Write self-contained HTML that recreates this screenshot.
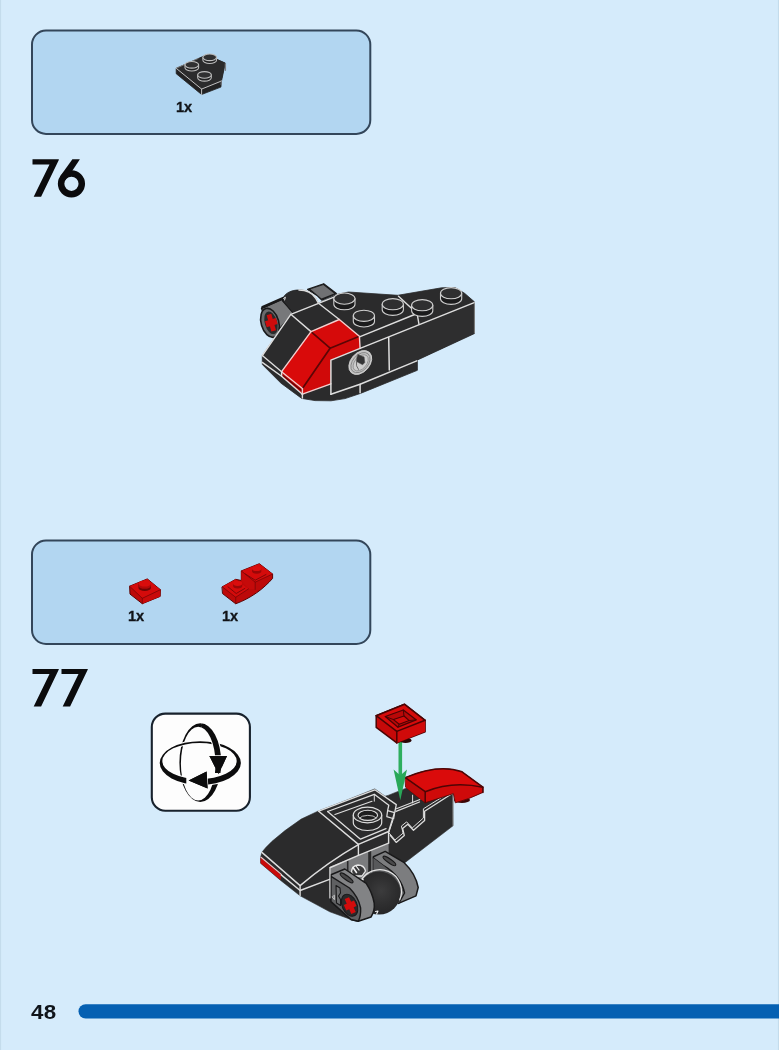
<!DOCTYPE html>
<html><head><meta charset="utf-8">
<style>
html,body{margin:0;padding:0;}
body{width:779px;height:1050px;position:relative;overflow:hidden;background:#d5ebfb;font-family:"Liberation Sans",sans-serif;}
.box{position:absolute;left:31px;width:340.3px;box-sizing:border-box;border:1.8px solid #33465a;border-radius:15px;background:#b2d6f1;}
#b1{top:29.6px;height:105px;}
#b2{top:539.6px;height:105.4px;}
.qty{position:absolute;font-weight:bold;font-size:14.6px;line-height:1;color:#101317;letter-spacing:-0.2px;-webkit-text-stroke:0.3px #101317;}
#pg{position:absolute;left:31.3px;top:1002.1px;font-weight:bold;font-size:20.6px;line-height:20px;color:#10141a;letter-spacing:0.4px;transform:scaleX(1.085);transform-origin:0 0;}
#bar{position:absolute;left:78.3px;top:1004.5px;width:720px;height:14.3px;border-radius:7.2px;background:#0560b2;}
#rot{position:absolute;left:150.6px;top:712.4px;width:100.4px;height:99.5px;box-sizing:border-box;border:2.2px solid #18222d;border-radius:14px;background:#fdfdfd;}
svg{position:absolute;left:0;top:0;z-index:0;filter:blur(0.45px);}
.qty,#pg{z-index:2;will-change:transform;filter:blur(0.35px);}
</style></head>
<body>
<div class="qty" style="left:175.5px;top:99.7px;">1x</div>
<div class="qty" style="left:128.2px;top:608.6px;">1x</div>
<div class="qty" style="left:222.1px;top:608.6px;">1x</div>
<div id="pg">48</div>
<svg id="art" width="779" height="1050" viewBox="0 0 779 1050">
<rect x="0" y="0" width="1.1" height="1050" fill="#c4dcec"/><rect x="777.9" y="0" width="1.1" height="1050" fill="#c4dcec"/>
<rect x="32" y="30.5" width="338.3" height="103.4" rx="14" ry="14" fill="#b2d6f1" stroke="#33465a" stroke-width="2"/>
<rect x="32" y="540.5" width="338.3" height="103.5" rx="14" ry="14" fill="#b2d6f1" stroke="#33465a" stroke-width="2"/>
<rect x="151.8" y="713.6" width="98.1" height="97.2" rx="13.5" ry="13.5" fill="#fdfdfd" stroke="#18222d" stroke-width="2.1"/>
<rect x="78.5" y="1004.2" width="720" height="14.3" rx="7.15" ry="7.15" fill="#0560b2"/>
<g id="nums" fill="#0b0b0d">
<defs><path id="seven" d="M0,0 H26.3 V0.7 L8.6,37.6 H1.2 L17,5.2 H0 Z"/></defs>
<use href="#seven" x="32.5" y="159.2"/>
<circle cx="71.45" cy="183.8" r="10.35" fill="none" stroke="#0b0b0d" stroke-width="6.5"/>
<polygon points="72.4,159.2 79.9,159.2 69.3,175.2 64.6,180.8 60.2,176.3"/>
<use href="#seven" x="32.5" y="668.9"/>
<use href="#seven" x="61.5" y="668.9"/>
</g>
<g id="part1">
<polygon points="176.2,68.3 206.8,54.8 225.3,63.1 221.5,81.0 220.9,87.1 201.6,94.5 176.2,73.7" fill="#222223" stroke="#222223" stroke-width="0.8" stroke-linejoin="round" />
<polygon points="176.2,68.3 206.8,54.8 225.3,63.1 221.5,81.0 201.6,89.1" fill="#2b2b2c" />
<polyline points="176.2,68.3 201.6,89.1 221.5,81.0" fill="none" stroke="#d2d2d2" stroke-width="0.9" stroke-linejoin="round" stroke-linecap="round" />
<polyline points="201.6,89.1 201.6,94.5" fill="none" stroke="#d2d2d2" stroke-width="0.9" stroke-linejoin="round" stroke-linecap="round" />
<polyline points="176.2,68.3 198.1,58.5" fill="none" stroke="#9a9a9a" stroke-width="0.7" stroke-linejoin="round" stroke-linecap="round" />
<polyline points="225.4,63.7 225.4,70.3" fill="none" stroke="#7d8085" stroke-width="1.3" stroke-linejoin="round" stroke-linecap="round" />
<polyline points="221.3,80.4 221.1,84.5" fill="none" stroke="#7d8085" stroke-width="1.0" stroke-linejoin="round" stroke-linecap="round" />
<path d="M202.9,57.3 V60.2 A6.8,3.3 0 0 0 216.5,60.2 V57.3 Z" fill="#222223" stroke="#bdbdbd" stroke-width="1.1" stroke-linejoin="round" stroke-linecap="round" /><ellipse cx="209.7" cy="57.3" rx="6.8" ry="3.3" fill="#303031" stroke="#bdbdbd" stroke-width="1.1"/>
<path d="M185.0,64.8 V67.7 A6.8,3.3 0 0 0 198.6,67.7 V64.8 Z" fill="#222223" stroke="#bdbdbd" stroke-width="1.1" stroke-linejoin="round" stroke-linecap="round" /><ellipse cx="191.8" cy="64.8" rx="6.8" ry="3.3" fill="#303031" stroke="#bdbdbd" stroke-width="1.1"/>
<path d="M197.7,74.9 V77.8 A6.8,3.3 0 0 0 211.3,77.8 V74.9 Z" fill="#222223" stroke="#bdbdbd" stroke-width="1.1" stroke-linejoin="round" stroke-linecap="round" /><ellipse cx="204.5" cy="74.9" rx="6.8" ry="3.3" fill="#303031" stroke="#bdbdbd" stroke-width="1.1"/>
</g>
<g id="model76">
<polygon points="307.6,289.4 323.7,283.7 336.4,293.5 322.0,300.2 317.4,295.8" fill="#1c1c1d" stroke="#1c1c1d" stroke-width="1.2" stroke-linejoin="round" />
<polygon points="310.5,289.3 323.3,284.9 334.2,293.4 321.5,298.6" fill="#707173" />
<polygon points="261.5,308.3 282.7,298.8 294.0,312.0 279.0,329.5 272.3,337.4" fill="#77787a" stroke="#19191a" stroke-width="1.4" stroke-linejoin="round" />
<polyline points="262.5,307.2 283.0,298.2" fill="none" stroke="#19191a" stroke-width="2.6" stroke-linejoin="round" stroke-linecap="round" />
<polyline points="283.0,300.5 293.5,312.5" fill="none" stroke="#19191a" stroke-width="2.4" stroke-linejoin="round" stroke-linecap="round" />
<ellipse cx="270.0" cy="322.8" rx="8.8" ry="14.8" transform="rotate(-16 270.0 322.8)" fill="#6a6b6d" stroke="#19191a" stroke-width="1.6"/>
<ellipse cx="271.0" cy="322.8" rx="6.2" ry="11.6" transform="rotate(-16 271.0 322.8)" fill="#2a2a2b"/>
<g transform="rotate(-16 271.2 322.6)"><rect x="268.9" y="314.2" width="4.8" height="17" fill="#cf0c0c"/><rect x="265.6" y="319.6" width="11.4" height="6.2" fill="#cf0c0c"/></g>
<path d="M283.3,301 L283.3,297.5 C286,292.5 292,290 298.9,290 C306,290 312,292.5 315.5,298 L318.5,303.3 L293.7,313.2 Z" fill="#2b2b2c" stroke="#1c1c1d" stroke-width="0.8" stroke-linejoin="round" stroke-linecap="round" />
<polyline points="283.6,298.5 285.4,297.2 284.6,300.0" fill="none" stroke="#e8e8e8" stroke-width="1.0" stroke-linejoin="round" stroke-linecap="round" />
<path d="M298.9,290 C306,290 312,292.5 315.5,298 L318.5,303.3" fill="none" stroke="#dedede" stroke-width="1.4" stroke-linejoin="round" stroke-linecap="round" />
<polygon points="262.3,355.5 290.8,314.3 318.5,303.3 336.0,294.6 348.5,292.0 397.8,295.3 441.5,287.8 455.0,287.5 464.6,293.3 474.4,301.8 474.4,333.6 417.4,360.0 417.4,370.3 360.5,393.4 345.0,398.6 331.0,400.8 315.0,400.6 301.7,398.4 281.0,383.2 262.3,364.5" fill="#2b2b2c" stroke="#2b2b2c" stroke-width="0.8" stroke-linejoin="round" />
<polygon points="388.9,337.5 474.4,302.6 474.4,333.6 417.4,360.0 389.3,370.3" fill="#2e2e2f" />
<polygon points="311.0,331.6 339.3,319.5 359.4,336.3 330.1,348.2" fill="#d60a0a" />
<polygon points="311.0,331.6 330.1,348.2 302.4,388.6 281.6,371.7" fill="#d90a0a" />
<polygon points="330.1,348.2 359.4,336.3 360.1,348.4 330.9,360.1 330.9,383.8 302.4,394.0 302.4,388.6" fill="#d00909" />
<polygon points="281.6,371.7 302.4,388.6 302.4,394.0 281.6,376.3" fill="#c00808" />
<polyline points="311.0,331.6 330.1,348.2 359.4,336.3" fill="none" stroke="#5c0505" stroke-width="1.7" stroke-linejoin="round" stroke-linecap="round" />
<polyline points="330.1,348.2 302.4,388.6" fill="none" stroke="#5c0505" stroke-width="1.7" stroke-linejoin="round" stroke-linecap="round" />
<polyline points="282.6,375.4 302.4,391.2" fill="none" stroke="#5c0505" stroke-width="1.1" stroke-linejoin="round" stroke-linecap="round" />
<polyline points="262.3,355.5 290.8,314.3 318.5,303.3 334.0,297.2" fill="none" stroke="#dedede" stroke-width="1.4" stroke-linejoin="round" stroke-linecap="round" />
<polyline points="290.8,314.3 311.0,331.6" fill="none" stroke="#dedede" stroke-width="1.4" stroke-linejoin="round" stroke-linecap="round" />
<polyline points="318.5,303.3 339.3,319.5" fill="none" stroke="#dedede" stroke-width="1.4" stroke-linejoin="round" stroke-linecap="round" />
<polyline points="311.0,331.6 339.3,319.5 359.4,336.3 360.1,348.4" fill="none" stroke="#f3cfcf" stroke-width="1.4" stroke-linejoin="round" stroke-linecap="round" />
<polyline points="311.0,331.6 281.6,371.7" fill="none" stroke="#f3cfcf" stroke-width="1.4" stroke-linejoin="round" stroke-linecap="round" />
<polyline points="262.3,355.5 281.6,371.7" fill="none" stroke="#dedede" stroke-width="1.4" stroke-linejoin="round" stroke-linecap="round" />
<polyline points="281.6,371.7 302.4,388.6" fill="none" stroke="#f3cfcf" stroke-width="1.3" stroke-linejoin="round" stroke-linecap="round" />
<polyline points="281.6,371.7 281.6,376.3" fill="none" stroke="#dedede" stroke-width="1.4" stroke-linejoin="round" stroke-linecap="round" />
<polyline points="302.4,388.6 302.4,394.4" fill="none" stroke="#f3cfcf" stroke-width="1.4" stroke-linejoin="round" stroke-linecap="round" />
<polyline points="262.3,362.4 281.6,376.3 302.4,394.2" fill="none" stroke="#dedede" stroke-width="1.4" stroke-linejoin="round" stroke-linecap="round" />
<polyline points="302.4,394.2 330.9,383.8" fill="none" stroke="#f3cfcf" stroke-width="1.4" stroke-linejoin="round" stroke-linecap="round" />
<polyline points="302.4,394.2 302.4,398.0" fill="none" stroke="#dedede" stroke-width="1.4" stroke-linejoin="round" stroke-linecap="round" />
<polyline points="330.9,394.3 330.9,360.1 360.1,348.4 474.2,302.6" fill="none" stroke="#dedede" stroke-width="1.5" stroke-linejoin="round" stroke-linecap="round" />
<polyline points="330.9,394.3 360.1,384.3 416.8,360.9" fill="none" stroke="#dedede" stroke-width="1.5" stroke-linejoin="round" stroke-linecap="round" />
<polyline points="388.7,337.5 389.3,370.1" fill="none" stroke="#dedede" stroke-width="1.5" stroke-linejoin="round" stroke-linecap="round" />
<polyline points="360.1,384.3 360.1,392.8" fill="none" stroke="#dedede" stroke-width="1.5" stroke-linejoin="round" stroke-linecap="round" />
<polyline points="360.1,336.7 417.1,313.5 419.0,324.4" fill="none" stroke="#dedede" stroke-width="1.4" stroke-linejoin="round" stroke-linecap="round" />
<polyline points="398.5,296.2 417.1,313.5" fill="none" stroke="#dedede" stroke-width="1.4" stroke-linejoin="round" stroke-linecap="round" />
<polyline points="474.4,302.6 474.4,333.0" fill="none" stroke="#9c9c9c" stroke-width="0.7" stroke-linejoin="round" stroke-linecap="round" />
<g transform="rotate(41 360.3 362.5)"><ellipse cx="360.3" cy="362.5" rx="9.5" ry="13.6" fill="#c2c2c2" stroke="#d9d9d9" stroke-width="0.8"/><ellipse cx="360.5" cy="362.5" rx="7.7" ry="11.6" fill="none" stroke="#858585" stroke-width="0.9"/><ellipse cx="360.8" cy="362.5" rx="5.9" ry="9.4" fill="#cdcdcd" stroke="#8a8a8a" stroke-width="0.8"/></g>
<path d="M358,354.5 L364.1,356.9 L364.8,362.5 L362.6,364.8 L356.4,361.5 L356.9,357.4 Z" fill="#343435" stroke="#4a4a4a" stroke-width="0.5" stroke-linejoin="round" stroke-linecap="round" />
<path d="M356.4,361.8 Q355.5,366 358.5,369.5" fill="none" stroke="#6a6a6a" stroke-width="1.0" stroke-linejoin="round" stroke-linecap="round" />
<path d="M333.8,298.6 V304.2 A10.6,5.6 0 0 0 355.0,304.2 V298.6 Z" fill="#1b1b1c" stroke="#cfcfcf" stroke-width="1.1" stroke-linejoin="round" stroke-linecap="round" /><ellipse cx="344.4" cy="298.6" rx="10.6" ry="5.6" fill="#2f2f30" stroke="#cfcfcf" stroke-width="1.1"/>
<path d="M382.2,304.2 V309.8 A10.6,5.6 0 0 0 403.4,309.8 V304.2 Z" fill="#1b1b1c" stroke="#cfcfcf" stroke-width="1.1" stroke-linejoin="round" stroke-linecap="round" /><ellipse cx="392.8" cy="304.2" rx="10.6" ry="5.6" fill="#2f2f30" stroke="#cfcfcf" stroke-width="1.1"/>
<path d="M353.3,315.8 V321.4 A10.6,5.6 0 0 0 374.5,321.4 V315.8 Z" fill="#1b1b1c" stroke="#cfcfcf" stroke-width="1.1" stroke-linejoin="round" stroke-linecap="round" /><ellipse cx="363.9" cy="315.8" rx="10.6" ry="5.6" fill="#2f2f30" stroke="#cfcfcf" stroke-width="1.1"/>
<path d="M440.5,293.2 V298.8 A10.6,5.6 0 0 0 461.7,298.8 V293.2 Z" fill="#1b1b1c" stroke="#cfcfcf" stroke-width="1.1" stroke-linejoin="round" stroke-linecap="round" /><ellipse cx="451.1" cy="293.2" rx="10.6" ry="5.6" fill="#2f2f30" stroke="#cfcfcf" stroke-width="1.1"/>
<path d="M411.6,305.2 V310.8 A10.6,5.6 0 0 0 432.8,310.8 V305.2 Z" fill="#1b1b1c" stroke="#cfcfcf" stroke-width="1.1" stroke-linejoin="round" stroke-linecap="round" /><ellipse cx="422.2" cy="305.2" rx="10.6" ry="5.6" fill="#2f2f30" stroke="#cfcfcf" stroke-width="1.1"/>
</g>
<g id="parts2">
<polygon points="129.6,586.2 147.3,578.9 160.4,589.7 160.2,596.4 142.3,603.7 130.0,594.1" fill="#bd0909" stroke="#5a0505" stroke-width="1.0" stroke-linejoin="round" />
<polygon points="129.6,586.2 147.3,578.9 160.4,589.7 142.3,598.3" fill="#d40b0b" />
<polygon points="142.3,598.3 160.4,589.7 160.2,596.4 142.3,603.7" fill="#c90a0a" />
<polyline points="129.6,586.2 142.3,598.3 160.4,589.7" fill="none" stroke="#7a0606" stroke-width="0.8" stroke-linejoin="round" stroke-linecap="round" />
<polyline points="142.3,598.3 142.3,603.7" fill="none" stroke="#7a0606" stroke-width="0.8" stroke-linejoin="round" stroke-linecap="round" />
<path d="M138.5,583.5 V587.9 A6.2,3.1 0 0 0 150.9,587.9 V583.5 Z" fill="#6e0505" />
<path d="M138.5,583.5 V585.7 A6.2,3.1 0 0 0 150.9,585.7 V583.5 Z" fill="#b30808" />
<ellipse cx="144.7" cy="583.5" rx="6.2" ry="3.1" fill="#d80c0c"/>
<path d="M222.3,586.8 L235.7,579.3 L241.3,580.5 L241.3,570.9 L259.3,563.7 L272.6,574.0 L272.6,578.4 C263.4,588.9 251.1,598.1 235.7,603.8 L222.8,593.8 Z" fill="#bd0909" stroke="#5a0505" stroke-width="1.0" stroke-linejoin="round" stroke-linecap="round" />
<polygon points="222.3,586.8 235.7,579.3 248.5,588.9 235.7,597.3" fill="#d40b0b" />
<polygon points="241.3,570.9 259.3,563.7 272.6,574.0 255.2,582.2" fill="#d40b0b" />
<polygon points="241.3,570.9 255.2,582.2 255.2,588.9 248.5,588.9 241.3,580.7" fill="#c50a0a" />
<polyline points="222.3,586.8 235.7,597.3 248.5,588.9" fill="none" stroke="#7a0606" stroke-width="0.8" stroke-linejoin="round" stroke-linecap="round" />
<polyline points="235.7,597.3 235.7,603.5" fill="none" stroke="#7a0606" stroke-width="0.8" stroke-linejoin="round" stroke-linecap="round" />
<polyline points="241.3,570.9 255.2,582.2 272.6,574.0" fill="none" stroke="#7a0606" stroke-width="0.8" stroke-linejoin="round" stroke-linecap="round" />
<polyline points="255.2,582.2 255.2,589.4" fill="none" stroke="#7a0606" stroke-width="0.8" stroke-linejoin="round" stroke-linecap="round" />
<polyline points="245.4,574.0 255.2,580.2 266.0,574.5" fill="none" stroke="#6a0505" stroke-width="0.8" stroke-linejoin="round" stroke-linecap="round" />
<polyline points="228.0,586.8 236.2,593.5 244.9,588.4" fill="none" stroke="#6a0505" stroke-width="0.8" stroke-linejoin="round" stroke-linecap="round" />
<path d="M233.1,583.5 V586.1 A4.6,2.4 0 0 0 242.3,586.1 V583.5 Z" fill="#9a0707" />
<ellipse cx="237.7" cy="583.5" rx="4.6" ry="2.4" fill="#da0d0d"/>
<path d="M252.1,568.7 V571.3 A4.6,2.4 0 0 0 261.3,571.3 V568.7 Z" fill="#9a0707" />
<ellipse cx="256.7" cy="568.7" rx="4.6" ry="2.4" fill="#da0d0d"/>
</g>
<g id="roticon">
<defs><clipPath id="cUR"><rect x="201.8" y="721.0" width="40" height="52"/></clipPath>
<clipPath id="cHnoArrowGap"><path d="M150,700 H260 V830 H150 Z M186.3,772.0 h13.0 v18.0 h-13.0 Z" clip-rule="evenodd"/></clipPath></defs>
<path d="M179.40,762.70 a20.90,39.40 0 1 0 41.80,0 a20.90,39.40 0 1 0 -41.80,0 Z M180.90,763.70 a17.30,36.90 0 1 0 34.60,0 a17.30,36.90 0 1 0 -34.60,0 Z" fill="#0c0c0d" fill-rule="evenodd"/>
<rect x="211" y="757" width="14" height="22" fill="#fdfdfd"/>
<g clip-path="url(#cHnoArrowGap)"><path d="M159.70,763.00 a40.60,21.80 0 1 0 81.20,0 a40.60,21.80 0 1 0 -81.20,0 Z M162.30,761.10 a37.20,18.00 0 1 0 74.40,0 a37.20,18.00 0 1 0 -74.40,0 Z" fill="#0c0c0d" fill-rule="evenodd" stroke="#fdfdfd" stroke-width="2.2" paint-order="stroke"/></g>
<polygon points="188.6,780.4 206.6,771.6 207.6,788.6" fill="#0c0c0d" stroke="#fdfdfd" stroke-width="1.6" stroke-linejoin="round" paint-order="stroke"/>
<polygon points="188.6,780.4 206.6,771.6 207.6,788.6" fill="#0c0c0d" />
<g clip-path="url(#cUR)"><path d="M179.40,762.70 a20.90,39.40 0 1 0 41.80,0 a20.90,39.40 0 1 0 -41.80,0 Z M180.90,763.70 a17.30,36.90 0 1 0 34.60,0 a17.30,36.90 0 1 0 -34.60,0 Z" fill="#0c0c0d" fill-rule="evenodd" stroke="#fdfdfd" stroke-width="2.2" paint-order="stroke"/></g>
<clipPath id="cVA"><rect x="200" y="750" width="40" height="17.5"/></clipPath>
<polygon points="218.6,774.2 209.4,756.0 227.0,756.0" fill="#0c0c0d" stroke="#fdfdfd" stroke-width="1.6" stroke-linejoin="round" paint-order="stroke" clip-path="url(#cVA)"/>
<polygon points="218.6,774.2 209.4,756.0 227.0,756.0" fill="#0c0c0d" />
</g>
<g id="model77">
<defs><radialGradient id="ballg" cx="0.55" cy="0.45" r="0.6"><stop offset="0" stop-color="#3c3c3d"/><stop offset="0.5" stop-color="#2f2f30"/><stop offset="1" stop-color="#242425"/></radialGradient></defs>
<polygon points="261.9,852.2 266.0,847.3 272.0,841.3 285.0,830.6 301.2,819.1 318.5,810.9 345.0,800.8 374.8,788.9 385.0,796.2 388.1,795.4 408.0,787.4 452.8,792.2 453.0,825.8 404.2,863.2 373.0,858.0 358.4,856.0 351.0,919.5 329.8,911.8 300.1,895.8 280.4,880.2 260.6,863.3 260.6,857.5" fill="#2b2b2c" stroke="#2b2b2c" stroke-width="0.6" stroke-linejoin="round" />
<polygon points="260.6,857.7 281.0,874.7 280.6,880.1 260.6,863.3" fill="#c90a0a" />
<polyline points="261.0,857.3 281.4,874.4" fill="none" stroke="#f1c4c4" stroke-width="1.2" stroke-linejoin="round" stroke-linecap="round" />
<polygon points="329.8,866.8 388.6,843.3 388.6,872.0 329.8,892.0" fill="#7b7c7e" />
<polyline points="347.7,860.5 347.7,880.0" fill="none" stroke="#2a2a2b" stroke-width="1.6" stroke-linejoin="round" stroke-linecap="round" />
<polyline points="369.7,851.5 369.7,872.0" fill="none" stroke="#2a2a2b" stroke-width="3.0" stroke-linejoin="round" stroke-linecap="round" />
<path d="M373.4,856.7 L385.2,851.4 L404.2,862.7 Q415.5,873.5 418.2,887.5 L416,895.9 L398.5,903.4 L373.4,882 Z" fill="#7c7d7f" stroke="#19191a" stroke-width="1.5" stroke-linejoin="round" stroke-linecap="round" />
<path d="M373.4,858 L384,866 Q401,876 404.5,893 L399,903" fill="none" stroke="#19191a" stroke-width="1.5" stroke-linejoin="round" stroke-linecap="round" />
<polygon points="373.4,858.0 384.0,866.0 396.0,876.0 403.0,890.0 399.0,903.0 373.4,882.0" fill="#58595b" />
<ellipse cx="389.4" cy="860.9" rx="7.6" ry="1.9" transform="rotate(35 389.4 860.9)" fill="#4a4a4b" stroke="#19191a" stroke-width="1.2"/>
<path d="M351.5,872 Q352,865.5 358,865 Q364,865 365.5,871 L362,876 L354,876 Z" fill="#3a3a3b" stroke="#e6e6e6" stroke-width="1.3" stroke-linejoin="round" stroke-linecap="round" />
<polyline points="353.0,867.5 356.5,872.5" fill="none" stroke="#f2f2f2" stroke-width="1.6" stroke-linejoin="round" stroke-linecap="round" />
<polyline points="356.0,866.0 359.0,870.0" fill="none" stroke="#f2f2f2" stroke-width="1.2" stroke-linejoin="round" stroke-linecap="round" />
<circle cx="379.1" cy="893.1" r="21.5" fill="url(#ballg)"/>
<path d="M360.0,882.7 A21.5,21.5 0 0 1 399.7,899.8" fill="none" stroke="#e4e4e4" stroke-width="1.2" stroke-linejoin="round" stroke-linecap="round" />
<polyline points="360.8,879.5 363.2,879.2 362.2,882.0" fill="none" stroke="#f0f0f0" stroke-width="1.1" stroke-linejoin="round" stroke-linecap="round" />
<polyline points="375.5,911.5 378.0,911.0 376.6,914.0" fill="none" stroke="#f0f0f0" stroke-width="1.1" stroke-linejoin="round" stroke-linecap="round" />
<path d="M331,874.8 L344.8,869 L366.2,883.3 Q372.5,893 374.2,903 Q375,911 371,917 L358.3,921.3 L351,919.5 L331,901.6 Z" fill="#828385" stroke="#19191a" stroke-width="1.5" stroke-linejoin="round" stroke-linecap="round" />
<path d="M331,876.3 L349.5,888 Q358.5,897 360.6,908 Q361,916 358.3,921.3 L351,919.5 L331,901.6 Z" fill="#5f6062" stroke="#19191a" stroke-width="1.4" stroke-linejoin="round" stroke-linecap="round" />
<ellipse cx="346.6" cy="877.9" rx="7.8" ry="2.0" transform="rotate(36 346.6 877.9)" fill="#4a4a4b" stroke="#19191a" stroke-width="1.2"/>
<path d="M336,885.5 L340,888 L340.5,893 L338.5,896 L340.5,899.5 L340.5,905.5 L336.5,903 Z" fill="#707173" stroke="#19191a" stroke-width="1.1" stroke-linejoin="round" stroke-linecap="round" />
<polyline points="332.4,897.0 334.4,895.2 334.4,899.6 332.4,897.0" fill="none" stroke="#d8d8d8" stroke-width="0.8" stroke-linejoin="round" stroke-linecap="round" />
<ellipse cx="349.6" cy="905.2" rx="7.4" ry="11.6" transform="rotate(-24 349.6 905.2)" fill="#2a2a2b" stroke="#19191a" stroke-width="1.0"/>
<g transform="rotate(-24 350.2 905.6)"><rect x="347.8" y="897.4" width="4.8" height="16.4" fill="#d20c0c"/><rect x="344.6" y="902.4" width="11.2" height="6.2" fill="#d20c0c"/></g>
<polyline points="261.9,852.4 300.1,885.6 300.1,895.5" fill="none" stroke="#dedede" stroke-width="1.4" stroke-linejoin="round" stroke-linecap="round" />
<polyline points="281.2,874.9 300.1,890.5 329.5,879.3" fill="none" stroke="#dedede" stroke-width="1.4" stroke-linejoin="round" stroke-linecap="round" />
<path d="M300.1,885.6 Q328,862 358.4,844.6" fill="none" stroke="#dedede" stroke-width="1.4" stroke-linejoin="round" stroke-linecap="round" />
<polyline points="318.7,811.2 358.4,844.4 358.4,855.1" fill="none" stroke="#dedede" stroke-width="1.4" stroke-linejoin="round" stroke-linecap="round" />
<polyline points="358.4,844.4 388.6,831.5 388.6,842.9" fill="none" stroke="#dedede" stroke-width="1.4" stroke-linejoin="round" stroke-linecap="round" />
<polyline points="330.4,867.5 358.4,855.3 388.6,843.1" fill="none" stroke="#dedede" stroke-width="1.4" stroke-linejoin="round" stroke-linecap="round" />
<polyline points="329.9,867.5 329.9,898.0" fill="none" stroke="#dedede" stroke-width="1.2" stroke-linejoin="round" stroke-linecap="round" />
<polyline points="318.7,811.2 374.8,789.8 396.3,804.6 394.8,812.0 388.6,831.5" fill="none" stroke="#dedede" stroke-width="1.3" stroke-linejoin="round" stroke-linecap="round" />
<polyline points="327.6,811.5 374.3,794.3 388.8,805.2 387.6,810.6" fill="none" stroke="#dedede" stroke-width="1.3" stroke-linejoin="round" stroke-linecap="round" />
<polyline points="327.6,811.5 360.5,839.2 386.0,828.6" fill="none" stroke="#dedede" stroke-width="1.3" stroke-linejoin="round" stroke-linecap="round" />
<polyline points="334.9,814.6 372.0,801.3" fill="none" stroke="#dedede" stroke-width="1.1" stroke-linejoin="round" stroke-linecap="round" />
<polyline points="374.3,794.3 374.3,801.2" fill="none" stroke="#dedede" stroke-width="1.0" stroke-linejoin="round" stroke-linecap="round" />
<polyline points="387.6,810.6 394.6,812.6 393.6,818.8 386.8,816.6 387.6,810.6" fill="none" stroke="#dedede" stroke-width="1.2" stroke-linejoin="round" stroke-linecap="round" />
<polyline points="393.0,820.0 389.0,832.0" fill="none" stroke="#dedede" stroke-width="1.0" stroke-linejoin="round" stroke-linecap="round" />
<path d="M353.3,815.0 V822.6 A14.2,7.9 0 0 0 381.7,822.6 V815.0 Z" fill="#262627" stroke="#dedede" stroke-width="1.2" stroke-linejoin="round" stroke-linecap="round" />
<ellipse cx="367.5" cy="815.0" rx="14.2" ry="7.9" fill="#303031" stroke="#dedede" stroke-width="1.2"/>
<ellipse cx="367.8" cy="815.3" rx="9.8" ry="5.1" fill="#1d1d1e" stroke="#dedede" stroke-width="1.1"/>
<path d="M359.3,818.2 A9.4,4.6 0 0 1 376.5,818.0" fill="none" stroke="#bdbdbd" stroke-width="1.0" stroke-linejoin="round" stroke-linecap="round" />
<polyline points="396.0,811.4 419.5,802.0" fill="none" stroke="#dedede" stroke-width="1.3" stroke-linejoin="round" stroke-linecap="round" />
<polyline points="396.4,808.8 420.0,799.4" fill="none" stroke="#dedede" stroke-width="1.1" stroke-linejoin="round" stroke-linecap="round" />
<polyline points="412.6,795.2 412.6,803.0" fill="none" stroke="#dedede" stroke-width="1.0" stroke-linejoin="round" stroke-linecap="round" />
<polyline points="390.4,835.5 396.2,842.4 404.3,835.5 402.6,828.5 407.8,824.3 413.5,830.3 424.6,820.4 424.6,811.2 452.6,793.2" fill="none" stroke="#dedede" stroke-width="1.3" stroke-linejoin="round" stroke-linecap="round" />
<polyline points="389.2,833.1 395.0,840.0 403.1,833.1 401.4,826.1 406.6,821.9 412.3,827.9 423.4,818.0 423.4,808.8 452.6,790.6" fill="none" stroke="#dedede" stroke-width="1.0" stroke-linejoin="round" stroke-linecap="round" />
<polyline points="452.9,793.0 452.9,825.5" fill="none" stroke="#8a8a8a" stroke-width="0.8" stroke-linejoin="round" stroke-linecap="round" />
<ellipse cx="462" cy="800" rx="8" ry="3" fill="#3a0505"/>
<path d="M405.3,777.6 Q438.4,763.4 462,771.8 L482.9,787.2 L482.9,792.4 Q468,799.6 455.3,802.8 L453.4,793.6 L425.2,802.8 L405.9,787.4 Z" fill="#cf0a0a" stroke="#5a0606" stroke-width="0.9" stroke-linejoin="round" stroke-linecap="round" />
<path d="M405.3,777.6 Q438.4,763.4 462,771.8 L482.9,787.2 Q452,780.5 425.2,791.7 Z" fill="#da0b0b" />
<polygon points="405.3,777.6 425.2,791.7 425.2,802.8 405.9,787.4" fill="#bf0909" />
<path d="M425.2,791.7 Q452,780.5 482.9,787.2" fill="none" stroke="#4e0505" stroke-width="1.5" stroke-linejoin="round" stroke-linecap="round" />
<polyline points="405.3,777.6 425.2,791.7 425.2,802.6" fill="none" stroke="#4e0505" stroke-width="1.5" stroke-linejoin="round" stroke-linecap="round" />
<path d="M405.3,777.6 Q438.4,763.4 462,771.8 L482.9,787.2 L482.9,792.4" fill="none" stroke="#4e0505" stroke-width="1.5" stroke-linejoin="round" stroke-linecap="round" />
<rect x="398.5" y="741" width="3.6" height="36" fill="#2eae5e"/>
<polygon points="400.3,800.2 393.6,769.6 400.3,775.6 407.0,769.6" fill="#29a858" />
<ellipse cx="405.5" cy="740.4" rx="6" ry="2.6" fill="#2a0404"/>
<polygon points="376.2,715.7 404.6,704.3 425.1,720.3 425.1,731.8 396.8,742.9 376.2,727.4" fill="#c60909" stroke="#4a0404" stroke-width="1.5" stroke-linejoin="round" />
<polygon points="376.2,715.7 404.6,704.3 425.1,720.3 396.8,731.4" fill="#d60b0b" />
<polygon points="396.8,731.4 425.1,720.3 425.1,731.8 396.8,742.9" fill="#d00a0a" />
<polyline points="376.2,715.7 396.8,731.4 425.1,720.3" fill="none" stroke="#4a0404" stroke-width="1.5" stroke-linejoin="round" stroke-linecap="round" />
<polyline points="396.8,731.4 396.8,742.9" fill="none" stroke="#4a0404" stroke-width="1.5" stroke-linejoin="round" stroke-linecap="round" />
<polyline points="376.2,715.7 404.6,704.3 425.1,720.3" fill="none" stroke="#4a0404" stroke-width="1.5" stroke-linejoin="round" stroke-linecap="round" />
<polygon points="385.3,716.5 403.3,710.0 416.1,719.8 398.0,727.2" fill="#b80808" stroke="#4a0404" stroke-width="1.3" stroke-linejoin="round" />
<polygon points="393.5,719.6 404.0,716.0 409.2,720.6 399.2,724.2" fill="#d20a0a" stroke="#4a0404" stroke-width="1.1" stroke-linejoin="round" />
<polyline points="385.3,716.5 393.5,719.6" fill="none" stroke="#4a0404" stroke-width="1.0" stroke-linejoin="round" stroke-linecap="round" />
<polyline points="403.3,710.0 404.0,716.0" fill="none" stroke="#4a0404" stroke-width="1.0" stroke-linejoin="round" stroke-linecap="round" />
<polyline points="416.1,719.8 409.2,720.6" fill="none" stroke="#4a0404" stroke-width="1.0" stroke-linejoin="round" stroke-linecap="round" />
<polyline points="398.0,727.2 399.2,724.2" fill="none" stroke="#4a0404" stroke-width="1.0" stroke-linejoin="round" stroke-linecap="round" />
</g>
</svg>
</body></html>
